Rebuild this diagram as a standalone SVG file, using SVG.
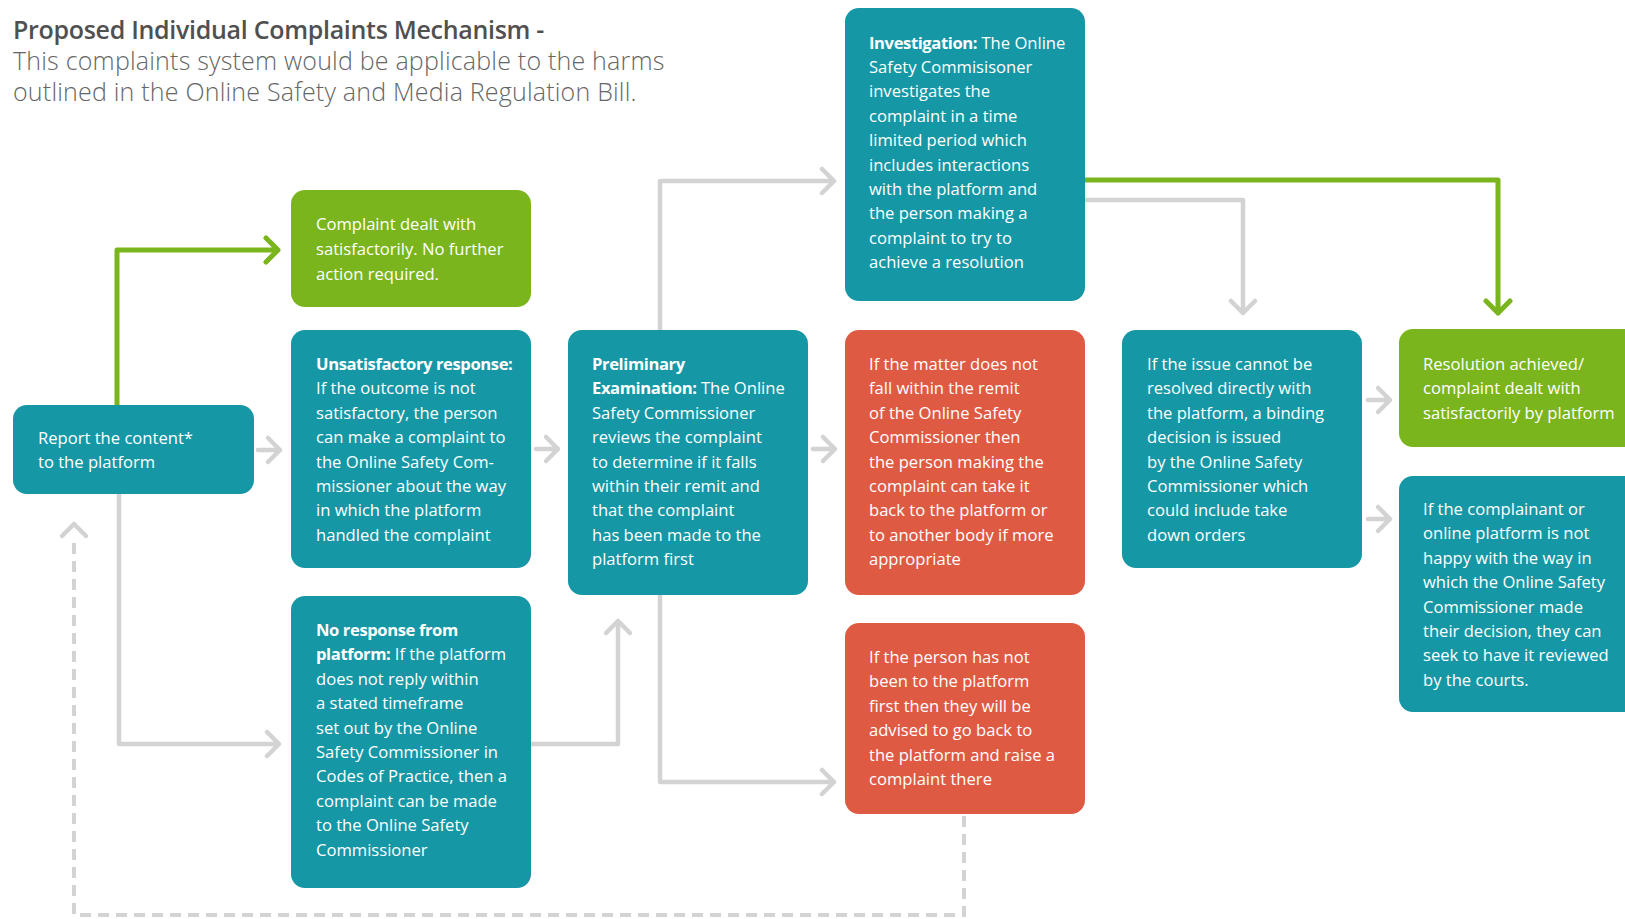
<svg xmlns="http://www.w3.org/2000/svg" width="1625" height="919" viewBox="0 0 1625 919">
<style>
.teal{fill:#1597a5}
.green{fill:#7ab51d}
.red{fill:#de5a43}
.t{font-family:"Open Sans","Liberation Sans",sans-serif;font-size:16.6px;fill:#ffffff}
.b{font-weight:700;letter-spacing:-0.4px}
.title{font-family:"Open Sans","Liberation Sans",sans-serif;font-size:25px;fill:#666666}
.gl{fill:none;stroke:#d3d3d3;stroke-width:4.5;stroke-linecap:round;stroke-linejoin:round}
.gr{fill:none;stroke:#7ab51d;stroke-width:5;stroke-linecap:round;stroke-linejoin:round}
.ds{fill:none;stroke:#d3d3d3;stroke-width:4;stroke-dasharray:11 7}
</style>
<rect width="1625" height="919" fill="#ffffff"/>
<g id="title">
<text class="title" x="13" y="39" font-weight="600" style="fill:#505050;letter-spacing:-0.3px">Proposed Individual Complaints Mechanism -</text>
<text class="title" x="13" y="70" font-weight="300" style="letter-spacing:0.2px">This complaints system would be applicable to the harms</text>
<text class="title" x="13" y="101" font-weight="300" style="letter-spacing:0.2px">outlined in the Online Safety and Media Regulation Bill.</text>
</g>
<g id="connectors">
<path class="gr" d="M117,405 V250 H278 M266,238 L278,250 L266,262"/>
<path class="gl" d="M119,494 V744 H279 M267,732 L279,744 L267,756"/>
<path class="gl" d="M258,450 H280 M268,438 L280,450 L268,462"/>
<path class="gl" d="M536,449 H558 M546,437 L558,449 L546,461"/>
<path class="gl" d="M813,449 H835 M823,437 L835,449 L823,461"/>
<path class="gl" d="M531,744 H618 V621 M606,633 L618,621 L630,633"/>
<path class="gl" d="M660,330 V181 H834 M822,169 L834,181 L822,193"/>
<path class="gl" d="M660,595 V782 H834 M822,770 L834,782 L822,794"/>
<path class="gl" d="M1085,200 H1243 V313 M1231,301 L1243,313 L1255,301"/>
<path class="gr" d="M1085,180 H1498 V313 M1486,301 L1498,313 L1510,301"/>
<path class="gl" d="M1368,400 H1390 M1378,388 L1390,400 L1378,412"/>
<path class="gl" d="M1368,519 H1390 M1378,507 L1390,519 L1378,531"/>
<path class="ds" d="M964,816 V915 H74 V542"/>
<path class="gl" d="M62,536 L74,524 L86,536"/>
</g>
<g id="report">
<rect class="teal" x="13" y="405" width="241" height="89" rx="14"/>
<text class="t" x="38" y="444">Report the content*</text>
<text class="t" x="38" y="468">to the platform</text>
</g>
<g id="dealt">
<rect class="green" x="291" y="190" width="240" height="117" rx="14"/>
<text class="t" x="316" y="230">Complaint dealt with</text>
<text class="t" x="316" y="255">satisfactorily. No further</text>
<text class="t" x="316" y="280">action required.</text>
</g>
<g id="unsatisfactory">
<rect class="teal" x="291" y="330" width="240" height="238" rx="14"/>
<text class="t" x="316" y="370"><tspan class="b">Unsatisfactory response:</tspan></text>
<text class="t" x="316" y="394.4">If the outcome is not</text>
<text class="t" x="316" y="418.8">satisfactory, the person</text>
<text class="t" x="316" y="443.2">can make a complaint to</text>
<text class="t" x="316" y="467.6">the Online Safety Com-</text>
<text class="t" x="316" y="492">missioner about the way</text>
<text class="t" x="316" y="516.4">in which the platform</text>
<text class="t" x="316" y="540.8">handled the complaint</text>
</g>
<g id="noresponse">
<rect class="teal" x="291" y="596" width="240" height="292" rx="14"/>
<text class="t" x="316" y="636"><tspan class="b">No response from</tspan></text>
<text class="t" x="316" y="660.4"><tspan class="b">platform:</tspan> If the platform</text>
<text class="t" x="316" y="684.8">does not reply within</text>
<text class="t" x="316" y="709.2">a stated timeframe</text>
<text class="t" x="316" y="733.6">set out by the Online</text>
<text class="t" x="316" y="758">Safety Commissioner in</text>
<text class="t" x="316" y="782.4">Codes of Practice, then a</text>
<text class="t" x="316" y="806.8">complaint can be made</text>
<text class="t" x="316" y="831.2">to the Online Safety</text>
<text class="t" x="316" y="855.6">Commissioner</text>
</g>
<g id="preliminary">
<rect class="teal" x="568" y="330" width="240" height="265" rx="14"/>
<text class="t" x="592" y="370"><tspan class="b">Preliminary</tspan></text>
<text class="t" x="592" y="394.4"><tspan class="b">Examination:</tspan> The Online</text>
<text class="t" x="592" y="418.8">Safety Commissioner</text>
<text class="t" x="592" y="443.2">reviews the complaint</text>
<text class="t" x="592" y="467.6">to determine if it falls</text>
<text class="t" x="592" y="492">within their remit and</text>
<text class="t" x="592" y="516.4">that the complaint</text>
<text class="t" x="592" y="540.8">has been made to the</text>
<text class="t" x="592" y="565.2">platform first</text>
</g>
<g id="investigation">
<rect class="teal" x="845" y="8" width="240" height="293" rx="14"/>
<text class="t" x="869" y="48.5"><tspan class="b">Investigation:</tspan> The Online</text>
<text class="t" x="869" y="72.9">Safety Commisisoner</text>
<text class="t" x="869" y="97.3">investigates the</text>
<text class="t" x="869" y="121.7">complaint in a time</text>
<text class="t" x="869" y="146.1">limited period which</text>
<text class="t" x="869" y="170.5">includes interactions</text>
<text class="t" x="869" y="194.9">with the platform and</text>
<text class="t" x="869" y="219.3">the person making a</text>
<text class="t" x="869" y="243.7">complaint to try to</text>
<text class="t" x="869" y="268.1">achieve a resolution</text>
</g>
<g id="remit">
<rect class="red" x="845" y="330" width="240" height="265" rx="14"/>
<text class="t" x="869" y="370">If the matter does not</text>
<text class="t" x="869" y="394.4">fall within the remit</text>
<text class="t" x="869" y="418.8">of the Online Safety</text>
<text class="t" x="869" y="443.2">Commissioner then</text>
<text class="t" x="869" y="467.6">the person making the</text>
<text class="t" x="869" y="492">complaint can take it</text>
<text class="t" x="869" y="516.4">back to the platform or</text>
<text class="t" x="869" y="540.8">to another body if more</text>
<text class="t" x="869" y="565.2">appropriate</text>
</g>
<g id="goback">
<rect class="red" x="845" y="623" width="240" height="191" rx="14"/>
<text class="t" x="869" y="663">If the person has not</text>
<text class="t" x="869" y="687.4">been to the platform</text>
<text class="t" x="869" y="711.8">first then they will be</text>
<text class="t" x="869" y="736.2">advised to go back to</text>
<text class="t" x="869" y="760.6">the platform and raise a</text>
<text class="t" x="869" y="785">complaint there</text>
</g>
<g id="binding">
<rect class="teal" x="1122" y="330" width="240" height="238" rx="14"/>
<text class="t" x="1147" y="370">If the issue cannot be</text>
<text class="t" x="1147" y="394.4">resolved directly with</text>
<text class="t" x="1147" y="418.8">the platform, a binding</text>
<text class="t" x="1147" y="443.2">decision is issued</text>
<text class="t" x="1147" y="467.6">by the Online Safety</text>
<text class="t" x="1147" y="492">Commissioner which</text>
<text class="t" x="1147" y="516.4">could include take</text>
<text class="t" x="1147" y="540.8">down orders</text>
</g>
<g id="resolved">
<rect class="green" x="1399" y="329" width="250" height="118" rx="14"/>
<text class="t" x="1423" y="370">Resolution achieved/</text>
<text class="t" x="1423" y="394.4">complaint dealt with</text>
<text class="t" x="1423" y="418.8">satisfactorily by platform</text>
</g>
<g id="review">
<rect class="teal" x="1399" y="476" width="250" height="236" rx="14"/>
<text class="t" x="1423" y="515">If the complainant or</text>
<text class="t" x="1423" y="539.4">online platform is not</text>
<text class="t" x="1423" y="563.8">happy with the way in</text>
<text class="t" x="1423" y="588.2">which the Online Safety</text>
<text class="t" x="1423" y="612.6">Commissioner made</text>
<text class="t" x="1423" y="637">their decision, they can</text>
<text class="t" x="1423" y="661.4">seek to have it reviewed</text>
<text class="t" x="1423" y="685.8">by the courts.</text>
</g>
</svg>
